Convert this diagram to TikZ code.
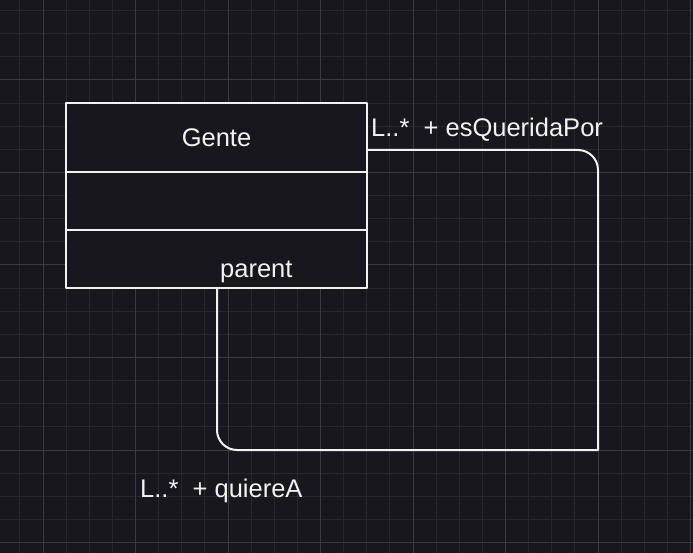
\documentclass[tikz,border=0pt]{standalone}
\usepackage{fontspec}
\setmainfont{Liberation Sans}
\usetikzlibrary{positioning}
\definecolor{canvas}{HTML}{18171E}
\definecolor{gridminor}{HTML}{28272D}
\definecolor{gridmajor}{HTML}{3B3A40}
\definecolor{ink}{HTML}{F2F2F2}
\begin{document}
\begin{tikzpicture}[x=1pt,y=-1pt,font=\fontsize{25.5}{30}\selectfont,line join=round,
	umlpart/.style={draw=ink,line width=2pt,fill=canvas,minimum width=301pt,outer sep=0pt,inner sep=0pt,text=ink},
	lbl/.style={inner sep=0pt,text=ink},
	assoc/.style={draw=ink,line width=2pt}]
		\useasboundingbox (0,0) rectangle (693,553);
		\fill[canvas] (0,0) rectangle (693,553);
		% grid
		\foreach \i in {-1,...,28} \draw[gridminor,line width=1pt] ({43+23.125*\i},0)--({43+23.125*\i},553);
		\foreach \j in {-3,...,20} \draw[gridminor,line width=1pt] (0,{80+23.125*\j})--(693,{80+23.125*\j});
		\foreach \i in {0,...,7} \draw[gridmajor,line width=1pt] ({43+92.5*\i},0)--({43+92.5*\i},553);
		\foreach \j in {-1,...,5} \draw[gridmajor,line width=1pt] (0,{80+92.5*\j})--(693,{80+92.5*\j});
		% class
		\node[umlpart,minimum height=69pt,anchor=north west] (gente) at (66,103) {Gente};
		\node[umlpart,minimum height=58pt,below=0pt of gente] (attrs) {};
		\node[umlpart,minimum height=58pt,below=0pt of attrs] (ops) {};
		% self association
		\coordinate (src) at (gente.east |- 0,150);
		\coordinate (dst) at (ops.south -| 217,0);
		\draw[assoc] (src) [rounded corners=20pt]--(598,150) [sharp corners]--(598,450) [rounded corners=20pt]--(217,450) [sharp corners]--(dst);
		\node[lbl,anchor=base west] (roleA) at (371,137) {L..*\ \ + esQueridaPor};
		\node[lbl,anchor=base west] (roleB) at (140,497) {L..*\ \ + quiereA};
		\node[lbl,anchor=base west] (parent) at (220,277) {parent};
\end{tikzpicture}
\end{document}
